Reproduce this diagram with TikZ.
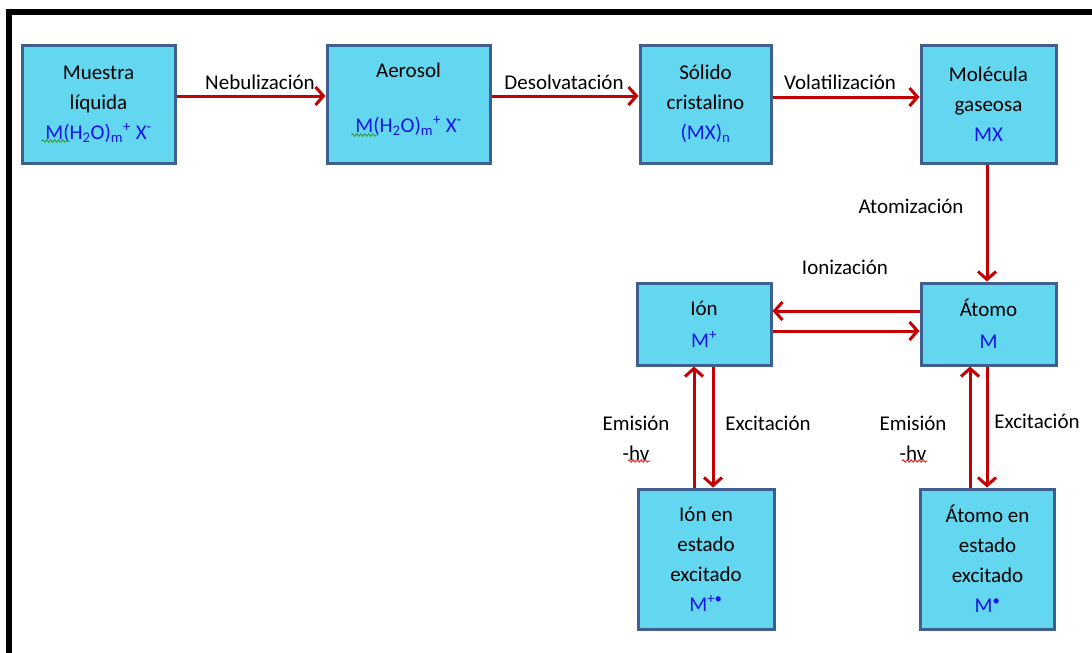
\documentclass[tikz,border=0pt]{standalone}
\usepackage{fontspec}
\setmainfont{Carlito}
\usetikzlibrary{arrows.meta,decorations.pathmorphing}
\definecolor{boxfill}{HTML}{63D7F0}
\definecolor{boxline}{HTML}{3F5F8F}
\definecolor{arrred}{HTML}{C40000}
\definecolor{formblue}{HTML}{1414E6}
\definecolor{spellgreen}{HTML}{3AA03A}
\definecolor{spellred}{HTML}{E03030}
\newcommand{\formMH}{\textcolor{formblue}{M(H\textsubscript{2}O)\textsubscript{m}\textsuperscript{+} X\textsuperscript{-}}}
\begin{document}
\begin{tikzpicture}[x=1pt,y=-1pt,
  stepbox/.style={draw=boxline, line width=3pt, fill=boxfill, align=center, inner sep=0pt,
    font=\fontsize{21}{30}\selectfont},
  lbl/.style={font=\fontsize{21}{30}\selectfont, align=center, inner sep=0pt},
  flow/.style={draw=arrred, line width=3pt, -{Straight Barb[length=8pt,width=18pt]}},
  wavy/.style={line width=1pt, decorate, decoration={snake, amplitude=1.2pt, segment length=4pt}}]
\useasboundingbox (0,0) rectangle (1092,653);
% frame
\fill[black] (6,9) rectangle (1092,15);
\fill[black] (6,9) rectangle (12,653);
% boxes
\node[stepbox, minimum width=153, minimum height=118] (b1) at (98.5,104) {Muestra\\líquida\\\formMH};
\node[stepbox, minimum width=163, minimum height=118] (b2) at (408.5,104) {};
\node[lbl] (b2t) at ([yshift=5pt]b2.center) {Aerosol\\[25pt]\formMH};
\node[stepbox, minimum width=131, minimum height=118] (b3) at (705.5,104) {Sólido\\cristalino\\\textcolor{formblue}{(MX)\textsubscript{n}}};
\node[stepbox, minimum width=135, minimum height=118] (b4) at (988.5,104) {Molécula\\gaseosa\\\textcolor{formblue}{MX}};
\node[stepbox, minimum width=134, minimum height=82] (ion) at (704,324) {Ión\\[2pt]\textcolor{formblue}{M\textsuperscript{+}}};
\node[stepbox, minimum width=135, minimum height=82] (at) at (988.5,324) {Átomo\\[2pt]\textcolor{formblue}{M}};
\node[stepbox, minimum width=136, minimum height=140] (ionex) at (706,559) {Ión en\\estado\\excitado\\\textcolor{formblue}{M\textsuperscript{+•}}};
\node[stepbox, minimum width=134, minimum height=140] (atex) at (987.5,559) {Átomo en\\estado\\excitado\\\textcolor{formblue}{M\textsuperscript{•}}};
% horizontal flow
\draw[flow] ([yshift=8pt]b1.east) -- ([yshift=8pt]b2.west);
\draw[flow] ([yshift=8pt]b2.east) -- ([yshift=8pt]b3.west);
\draw[flow] ([yshift=7pt]b3.east) -- ([yshift=7pt]b4.west);
\draw[flow] ([xshift=-1.5pt]b4.south) -- ([xshift=-1.5pt]at.north);
% ionization
\draw[flow] ([yshift=13pt]at.west) -- ([yshift=13pt]ion.east);
\draw[flow] ([yshift=-7pt]ion.east) -- ([yshift=-7pt]at.west);
% ion excitation/emission
\draw[flow] ([xshift=-10pt]ion.south |- ionex.north) -- ([xshift=-10pt]ion.south);
\draw[flow] ([xshift=9pt]ion.south) -- ([xshift=9pt]ion.south |- ionex.north);
% atom excitation/emission
\draw[flow] ([xshift=-18.5pt]at.south |- atex.north) -- ([xshift=-18.5pt]at.south);
\draw[flow] ([xshift=-1.5pt]at.south) -- ([xshift=-1.5pt]at.south |- atex.north);
% labels
\node[lbl] (lneb) at (260,82) {Nebulización};
\node[lbl] (ldes) at (564,82) {Desolvatación};
\node[lbl] (lvol) at (840,82) {Volatilización};
\node[lbl] (latz) at (911,206) {Atomización};
\node[lbl] (lion) at (845,267) {Ionización};
\node[lbl] (lem1) at (636,438) {Emisión\\-hv};
\node[lbl] (lex1) at (768,423) {Excitación};
\node[lbl] (lem2) at (913,438) {Emisión\\-hv};
\node[lbl] (lex2) at (1037,421) {Excitación};
% spelling squiggles
\draw[spellgreen, wavy] ([xshift=-57pt,yshift=-37pt]b1.center) -- ([xshift=-29pt,yshift=-37pt]b1.center);
\draw[spellgreen, wavy] ([xshift=-57pt,yshift=-31pt]b2.center) -- ([xshift=-31pt,yshift=-31pt]b2.center);
\draw[spellred, wavy] ([xshift=-8pt,yshift=-23pt]lem1.center) -- ([xshift=14pt,yshift=-23pt]lem1.center);
\draw[spellred, wavy] ([xshift=-11pt,yshift=-23pt]lem2.center) -- ([xshift=14pt,yshift=-23pt]lem2.center);
\end{tikzpicture}
\end{document}
